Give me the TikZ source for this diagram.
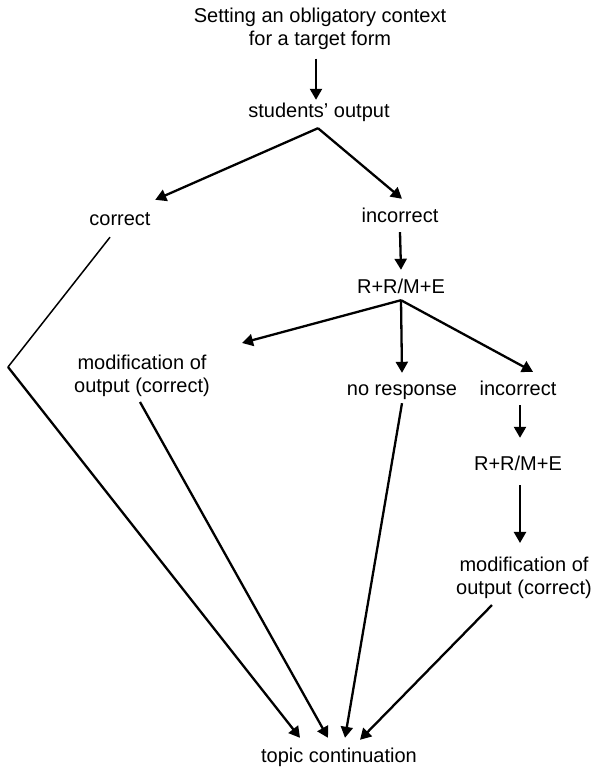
\documentclass[tikz,border=0pt]{standalone}
\usepackage{fontspec}
\setmainfont{Liberation Sans}
\usetikzlibrary{arrows.meta,calc}
\tikzset{
  txt/.style    = {font=\fontsize{20}{23}\selectfont, inner sep=0pt,
                   text height=14pt, text depth=4pt},
  txtblock/.style = {font=\fontsize{20}{23}\selectfont, inner sep=0pt, align=center},
  flow/.style   = {-{Triangle[length=11pt,width=12pt]}, line width=2.3pt},
  link/.style   = {line width=1.5pt}
}

\begin{document}
\begin{tikzpicture}[x=1pt,y=-1pt]
\useasboundingbox (0,0) rectangle (592,771);

% --- nodes ---
\node[txtblock] (ctx) at (320,28.5) {Setting an obligatory context\\for a target form};
\node[txt] (out) at (319,112) {students' output};
\node[txt] (corr) at (120,220) {correct};
\node[txt] (inc) at (400,217) {incorrect};
\node[txt] (rrme) at (401,288) {R+R/M+E};
\node[txtblock] (modl) at (142,376) {modification of\\output (correct)};
\node[txt] (nores) at (402,390) {no response};
\node[txt] (inc2) at (518,390) {incorrect};
\node[txt] (rrme2) at (518,465) {R+R/M+E};
\node[txtblock] (modr) at (524,578) {modification of\\output (correct)};
\node[txt] (topic) at (339,757) {topic continuation};

% --- fork points and bend ---
\coordinate (fork1) at ($(out.south)+(-1,7)$);
\coordinate (fork2) at ($(rrme.south)+(0,3)$);
\coordinate (bend) at (8,367);

% --- top part ---
\draw[flow] ([xshift=-4pt,yshift=-9pt]ctx.south) -- ([xshift=-3pt,yshift=3pt]out.north);
\draw[flow] (fork1) -- ([xshift=4.5pt,yshift=11pt]corr.north east);
\draw[flow] (fork1) -- ([xshift=2pt,yshift=9pt]inc.north);
\draw[flow] ([yshift=-6pt]inc.south) -- ([yshift=9pt]rrme.north);

% --- feedback ---
\draw[flow] (fork2) -- ([xshift=32pt,yshift=12pt]modl.north east);
\draw[flow] (fork2) -- ([yshift=8pt]nores.north);
\draw[flow] (fork2) -- ([xshift=15pt,yshift=9pt]inc2.north);
\draw[flow] ([xshift=2pt,yshift=-6pt]inc2.south) -- ([xshift=2pt,yshift=18pt]rrme2.north);
\draw[flow] ([xshift=2pt,yshift=-11pt]rrme2.south) -- ([xshift=-4pt,yshift=14pt]modr.north);

% --- into topic continuation ---
\draw[link] ([xshift=-10pt,yshift=-8pt]corr.south) -- (bend);
\draw[flow] (bend) -- ([xshift=-39pt,yshift=10pt]topic.north);
\draw[flow] ([xshift=-2pt,yshift=-5pt]modl.south) -- ([xshift=-11pt,yshift=10pt]topic.north);
\draw[flow] ([yshift=-4pt]nores.south) -- ([xshift=6pt,yshift=10pt]topic.north);
\draw[flow] ([xshift=-32pt,yshift=-6pt]modr.south) -- ([xshift=21pt,yshift=8pt]topic.north);

\end{tikzpicture}
\end{document}
